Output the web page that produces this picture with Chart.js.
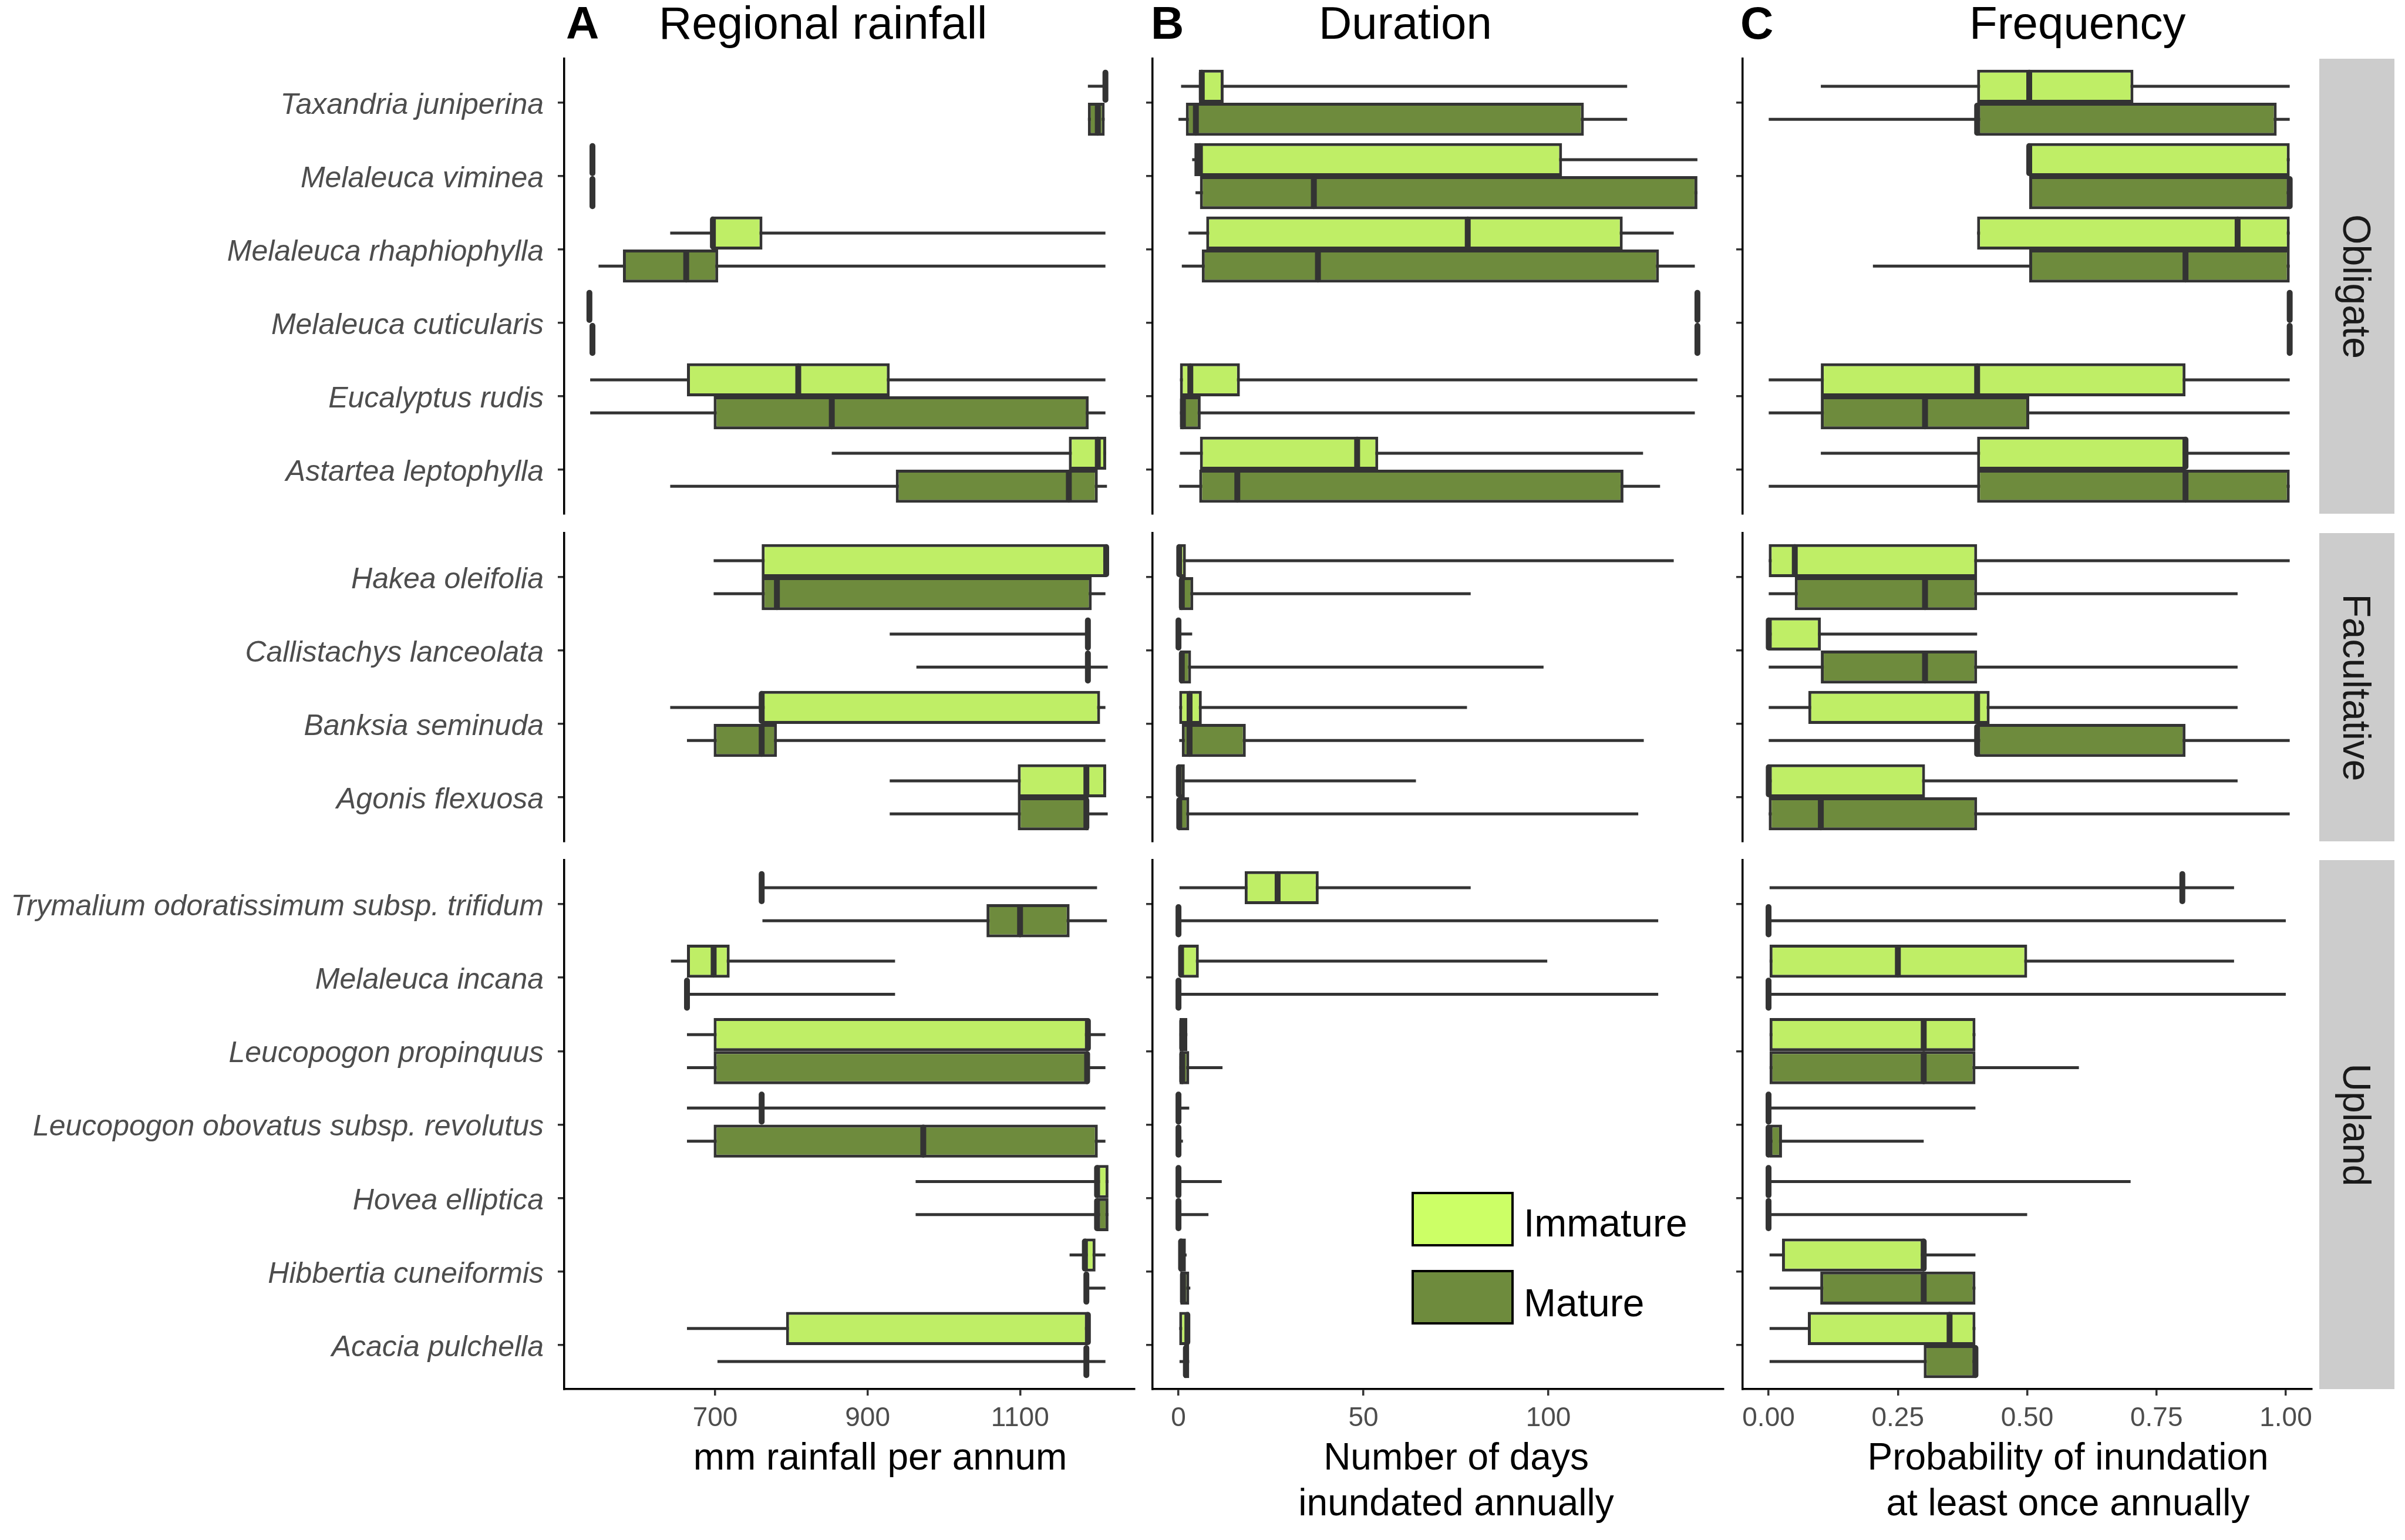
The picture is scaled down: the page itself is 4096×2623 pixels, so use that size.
<!DOCTYPE html>
<html>
<head>
<meta charset="utf-8">
<script src="https://cdn.jsdelivr.net/npm/chart.js@4.4.1/dist/chart.umd.min.js"></script>
<style>
  body { margin: 0; background: #fff; width: 4096px; height: 2623px; position: relative; overflow: hidden;
         font-family: "Liberation Sans", Arial, sans-serif; }
  canvas { position: absolute; }
  .txt { position: absolute; white-space: nowrap; line-height: 1; }
  .strip { position: absolute; background: #cccccc; }
</style>
</head>
<body>
<script>
// species per facet (top to bottom)
const obligateSpecies = ['Taxandria juniperina', 'Melaleuca viminea', 'Melaleuca rhaphiophylla',
  'Melaleuca cuticularis', 'Eucalyptus rudis', 'Astartea leptophylla'];
const facultativeSpecies = ['Hakea oleifolia', 'Callistachys lanceolata', 'Banksia seminuda', 'Agonis flexuosa'];
const uplandSpecies = ['Trymalium odoratissimum subsp. trifidum', 'Melaleuca incana', 'Leucopogon propinquus',
  'Leucopogon obovatus subsp. revolutus', 'Hovea elliptica', 'Hibbertia cuneiformis', 'Acacia pulchella'];
const facetNames = ['Obligate', 'Facultative', 'Upland'];

// five-number summaries [min, q1, median, q3, max], same species order as above
const rainfallImmature = [
  [1189, 1212, 1212, 1212, 1212], [539, 539, 539, 539, 539], [641, 695, 697, 762, 1212],
  [535, 535, 535, 535, 535], [536, 663, 809, 929, 1212], [853, 1164, 1202, 1213, 1213],
  [698, 761, 1213, 1213, 1213], [929, 1189, 1189, 1189, 1189], [641, 761, 761, 1205, 1212],
  [929, 1097, 1187, 1213, 1213],
  [761, 761, 761, 761, 1201], [642, 663, 698, 719, 936], [663, 698, 1189, 1189, 1212],
  [663, 761, 761, 761, 1212], [963, 1201, 1201, 1216, 1216], [1165, 1185, 1185, 1199, 1212],
  [663, 793, 1189, 1189, 1189]
];
const rainfallMature = [
  [1189, 1189, 1202, 1211, 1211], [539, 539, 539, 539, 539], [547, 579, 662, 704, 1212],
  [539, 539, 539, 539, 539], [536, 698, 853, 1190, 1212], [641, 937, 1164, 1202, 1214],
  [698, 761, 781, 1194, 1212], [964, 1189, 1189, 1189, 1215], [663, 698, 761, 781, 1212],
  [929, 1097, 1187, 1190, 1215],
  [762, 1056, 1100, 1165, 1214], [663, 663, 663, 663, 936], [663, 698, 1188, 1189, 1212],
  [663, 698, 973, 1202, 1212], [963, 1201, 1201, 1216, 1216], [1187, 1187, 1187, 1187, 1212],
  [703, 1187, 1187, 1187, 1212]
];
const durationImmature = [
  [0.7, 5.5, 6.3, 12.2, 121.3], [3.7, 4.3, 5.8, 103.7, 140.3], [2.7, 7.5, 78.2, 120.1, 133.9],
  [140.3, 140.3, 140.3, 140.3, 140.3], [0.4, 0.4, 3.2, 16.6, 140.3], [0.4, 5.8, 48.3, 54.0, 125.6],
  [0, 0, 0.2, 2.0, 133.9], [0, 0, 0, 0, 3.7], [0.2, 0.2, 3.0, 6.3, 78.0], [0, 0, 0.1, 1.7, 64.2],
  [0, 17.9, 26.8, 37.9, 79.0], [0, 0, 0.7, 5.5, 99.7], [0, 0, 1.0, 2.4, 2.4], [0, 0, 0, 0, 2.9],
  [0, 0, 0, 0, 11.7], [0, 0, 0.7, 2.0, 2.2], [0.2, 0.2, 2.4, 2.9, 2.9]
];
const durationMature = [
  [0, 2.0, 4.7, 109.6, 121.3], [4.6, 5.8, 36.6, 140.3, 140.3], [0.9, 6.3, 37.7, 129.9, 139.6],
  [140.3, 140.3, 140.3, 140.3, 140.3], [0.4, 0.4, 1.2, 6.0, 139.6], [0.2, 5.6, 15.9, 120.3, 130.2],
  [0.2, 0.2, 0.9, 4.0, 79.0], [0.4, 0.4, 0.9, 3.4, 98.7], [0.2, 0.9, 3.0, 18.2, 125.8], [0, 0, 0.2, 2.9, 124.3],
  [0, 0, 0, 0, 129.7], [0, 0, 0, 0, 129.7], [0, 0, 1.0, 2.9, 11.9], [0, 0, 0, 0, 1.2],
  [0, 0, 0, 0, 8.1], [0.5, 0.5, 1.2, 2.9, 3.2], [0, 1.5, 2.0, 2.9, 2.9]
];
const frequencyImmature = [
  [0.1, 0.4, 0.5, 0.7, 1.0], [0.5, 0.5, 0.5, 1.0, 1.0], [0.4, 0.4, 0.9, 1.0, 1.0],
  [1, 1, 1, 1, 1], [0, 0.1, 0.4, 0.8, 1.0], [0.1, 0.4, 0.8, 0.8, 1.0],
  [0, 0, 0.05, 0.4, 1.0], [0, 0, 0, 0.1, 0.4], [0, 0.076, 0.4, 0.424, 0.9], [0, 0, 0, 0.3, 0.9],
  [0, 0.8, 0.8, 0.8, 0.9], [0, 0, 0.25, 0.5, 0.9], [0, 0, 0.3, 0.4, 0.4], [0, 0, 0, 0, 0.4],
  [0, 0, 0, 0, 0.7], [0, 0.026, 0.3, 0.3, 0.4], [0, 0.076, 0.35, 0.4, 0.4]
];
const frequencyMature = [
  [0, 0.4, 0.4, 0.975, 1.0], [0.5, 0.5, 1.0, 1.0, 1.0], [0.2, 0.5, 0.8, 1.0, 1.0],
  [1, 1, 1, 1, 1], [0, 0.1, 0.3, 0.5, 1.0], [0, 0.4, 0.8, 1.0, 1.0],
  [0, 0.05, 0.3, 0.4, 0.9], [0, 0.1, 0.3, 0.4, 0.9], [0, 0.4, 0.4, 0.8, 1.0], [0, 0, 0.1, 0.4, 1.0],
  [0, 0, 0, 0, 1.0], [0, 0, 0, 0, 1.0], [0, 0, 0.3, 0.4, 0.6], [0, 0, 0, 0.026, 0.3],
  [0, 0, 0, 0, 0.5], [0, 0.1, 0.3, 0.4, 0.4], [0, 0.3, 0.4, 0.4, 0.4]
];

// tick labels of the three x axes
const rainfallTicks = [700, 900, 1100];
const rainfallTickLabels = ['700', '900', '1100'];
const durationTicks = [0, 50, 100];
const durationTickLabels = ['0', '50', '100'];
const frequencyTicks = [0, 0.25, 0.5, 0.75, 1];
const frequencyTickLabels = ['0.00', '0.25', '0.50', '0.75', '1.00'];

const FONT = '"Liberation Sans", Arial, sans-serif';
const IMM_FILL = '#bfee66', MAT_FILL = '#6e8b3d', INK = '#333333';

const facetSpecies = [obligateSpecies, facultativeSpecies, uplandSpecies];
const panels = [
  { imm: rainfallImmature, mat: rainfallMature, min: 502, max: 1250, ticks: rainfallTicks, labels: rainfallTickLabels },
  { imm: durationImmature, mat: durationMature, min: -7, max: 147.3, ticks: durationTicks, labels: durationTickLabels },
  { imm: frequencyImmature, mat: frequencyMature, min: -0.05, max: 1.05, ticks: frequencyTicks, labels: frequencyTickLabels }
];

// plot-area geometry (page pixels)
const colLeft = [961, 1963, 2968], colRight = [1932, 2935, 3944];
const rowTop = [100, 908, 1465], rowBottom = [875, 1433, 2366];

// median bars are drawn on top of the boxes, positioned from the scales
const medianPlugin = {
  id: 'medianLines',
  afterDatasetsDraw(chart) {
    const ctx = chart.ctx, xs = chart.scales.x;
    chart.data.datasets.forEach((ds, di) => {
      if (!ds.medians) return;
      const meta = chart.getDatasetMeta(di);
      meta.data.forEach((el, i) => {
        const p = el.getProps(['y', 'height'], true);
        const x = xs.getPixelForValue(ds.medians[i]);
        ctx.save();
        ctx.strokeStyle = INK;
        ctx.lineWidth = 10;
        ctx.lineCap = 'round';
        ctx.beginPath();
        ctx.moveTo(x, p.y - p.height / 2 + 5);
        ctx.lineTo(x, p.y + p.height / 2 - 5);
        ctx.stroke();
        ctx.restore();
      });
    });
  }
};

function makeChart(col, row) {
  const panel = panels[col];
  const names = facetSpecies[row];
  let off = 0;
  for (let r = 0; r < row; r++) off += facetSpecies[r].length;
  const groups = [
    { name: 'Immature', fill: IMM_FILL, stats: panel.imm.slice(off, off + names.length) },
    { name: 'Mature', fill: MAT_FILL, stats: panel.mat.slice(off, off + names.length) }
  ];

  const bottomRow = row === 2;
  const yW = col === 0 ? colLeft[0] : 30;
  // padding must exceed half a tick label plus tick padding, or chart.js shrinks the plot area
  const padT = 60, padR = 6, padB = bottomRow ? 0 : 60;
  const xH = bottomRow ? 110 : 0;
  const w = yW + colRight[col] - colLeft[col] + padR;
  const h = padT + rowBottom[row] - rowTop[row] + xH + padB;

  const canvas = document.createElement('canvas');
  canvas.width = w; canvas.height = h;
  canvas.style.left = (colLeft[col] - yW) + 'px';
  canvas.style.top = (rowTop[row] - padT) + 'px';
  canvas.style.width = w + 'px'; canvas.style.height = h + 'px';
  document.body.appendChild(canvas);

  const datasets = [];
  groups.forEach(g => {
    datasets.push({
      label: g.name + ' range',
      data: g.stats.map((s, i) => ({ y: i + 1, x: [s[0], s[4]] })),
      backgroundColor: INK, borderWidth: 0, maxBarThickness: 5,
      stack: g.name, order: 2, categoryPercentage: 0.9, barPercentage: 1
    });
    datasets.push({
      label: g.name,
      data: g.stats.map((s, i) => ({ y: i + 1, x: [s[1], s[3]] })),
      medians: g.stats.map(s => s[2]),
      backgroundColor: g.fill, borderColor: INK, borderWidth: 5, borderSkipped: false,
      stack: g.name, order: 1, categoryPercentage: 0.9, barPercentage: 1
    });
  });

  const tickGrid = { display: true, offset: false, drawOnChartArea: false, drawTicks: true, tickLength: 11, color: INK, lineWidth: 3.5 };
  const axisBorder = { display: true, color: '#000000', width: 3.5 };

  new Chart(canvas, {
    type: 'bar',
    data: { datasets },
    options: {
      indexAxis: 'y',
      responsive: false,
      animation: false,
      devicePixelRatio: 1,
      layout: { padding: { left: 0, top: padT, right: padR, bottom: padB } },
      plugins: { legend: { display: false }, tooltip: { enabled: false } },
      scales: {
        x: {
          type: 'linear', min: panel.min, max: panel.max, display: bottomRow, stacked: false, offset: false,
          afterBuildTicks: s => { s.ticks = panel.ticks.map(v => ({ value: v })); },
          afterFit: s => { s.height = xH; },
          ticks: { callback: (v, i) => panel.labels[i], color: '#4d4d4d', font: { family: FONT, size: 46 },
                   padding: 12, autoSkip: false, maxRotation: 0 },
          grid: tickGrid, border: axisBorder
        },
        y: {
          type: 'linear', reverse: true, min: 0.4, max: names.length + 0.6, offset: false, bounds: 'data',
          afterBuildTicks: s => { s.ticks = names.map((n, i) => ({ value: i + 1 })); },
          afterFit: s => { s.width = yW; },
          ticks: { callback: (v, i) => (col === 0 ? names[i] : ''), color: '#4d4d4d',
                   font: { family: FONT, size: 50, style: 'italic' }, padding: 24, labelOffset: 5, autoSkip: false },
          grid: tickGrid, border: axisBorder
        }
      }
    },
    plugins: [medianPlugin]
  });
}

function addText(str, x, baseline, size, opts = {}) {
  const d = document.createElement('div');
  d.className = 'txt';
  d.textContent = str;
  d.style.fontSize = size + 'px';
  d.style.left = x + 'px';
  d.style.top = (baseline - 0.8465 * size) + 'px';
  d.style.color = opts.color || '#000';
  if (opts.bold) d.style.fontWeight = 'bold';
  if (opts.center) d.style.transform = 'translateX(-50%)';
  document.body.appendChild(d);
  return d;
}

for (let c = 0; c < 3; c++) for (let r = 0; r < 3; r++) makeChart(c, r);

// panel letters and titles
addText('A', 964, 66, 78, { bold: true });
addText('Regional rainfall', 1122, 66, 78);
addText('B', 1960, 66, 78, { bold: true });
addText('Duration', 2246, 66, 78);
addText('C', 2964, 66, 78, { bold: true });
addText('Frequency', 3354, 66, 78);

// x-axis titles
addText('mm rainfall per annum', 1499, 2503, 64, { center: true });
addText('Number of days', 2480, 2503, 64, { center: true });
addText('inundated annually', 2480, 2581, 64, { center: true });
addText('Probability of inundation', 3522, 2503, 64, { center: true });
addText('at least once annually', 3522, 2581, 64, { center: true });

// facet strips
facetNames.forEach((name, r) => {
  const s = document.createElement('div');
  s.className = 'strip';
  s.style.left = '3950px'; s.style.width = '128px';
  s.style.top = rowTop[r] + 'px'; s.style.height = (rowBottom[r] - rowTop[r]) + 'px';
  document.body.appendChild(s);
  const t = document.createElement('div');
  t.className = 'txt';
  t.textContent = name;
  t.style.fontSize = '66px';
  t.style.color = '#1a1a1a';
  t.style.left = '4014px';
  t.style.top = ((rowTop[r] + rowBottom[r]) / 2) + 'px';
  t.style.transform = 'translate(-50%, -50%) rotate(90deg)';
  document.body.appendChild(t);
});

// legend
[['Immature', '#ccff66', 2030, 2106], ['Mature', MAT_FILL, 2163, 2242]].forEach(([label, fill, top, base]) => {
  const k = document.createElement('div');
  k.style.cssText = 'position:absolute;left:2404px;width:166px;height:85px;border:4px solid #000;background:' + fill + ';top:' + top + 'px';
  document.body.appendChild(k);
  addText(label, 2595, base, 66);
});
</script>
</body>
</html>
